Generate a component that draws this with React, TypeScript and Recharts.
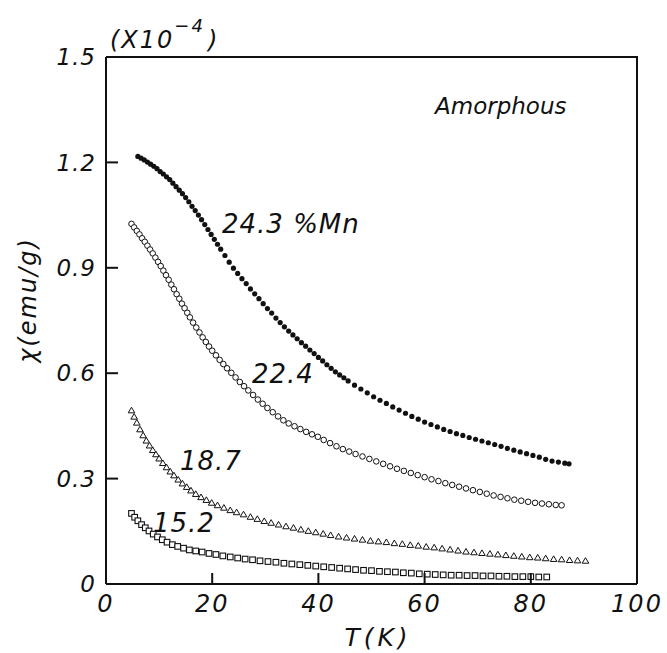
import { ScatterChart, Scatter, XAxis, YAxis, Customized } from 'recharts';

// susceptibility (x 1e-4 emu/g) vs T (K), amorphous Mn alloys
const mn243: [number, number][] = [
  [6.0, 1.217], [6.6, 1.212], [7.2, 1.207], [7.8, 1.201], [8.4, 1.195], [9.0, 1.189],
  [9.6, 1.182], [10.2, 1.174], [10.8, 1.167], [11.4, 1.159], [12.0, 1.151], [12.6, 1.141],
  [13.2, 1.131], [13.8, 1.121], [14.4, 1.111], [15.0, 1.1], [15.6, 1.088], [16.2, 1.075],
  [16.8, 1.063], [17.4, 1.05], [18.0, 1.037], [18.6, 1.023], [19.2, 1.009], [19.8, 0.995],
  [20.4, 0.981], [21.0, 0.967], [21.6, 0.953], [22.4, 0.935], [23.2, 0.916], [24.0, 0.899],
  [24.8, 0.884], [25.6, 0.869], [26.4, 0.855], [27.2, 0.84], [28.0, 0.826], [28.8, 0.812],
  [29.6, 0.798], [30.4, 0.784], [31.2, 0.771], [32.0, 0.757], [32.8, 0.744], [33.6, 0.732],
  [34.4, 0.72], [35.2, 0.709], [36.0, 0.698], [36.8, 0.687], [37.6, 0.677], [38.4, 0.666],
  [39.2, 0.656], [40.0, 0.645], [40.8, 0.635], [41.6, 0.624], [42.4, 0.614], [43.2, 0.604],
  [44.0, 0.595], [44.8, 0.587], [45.6, 0.578], [46.8, 0.566], [48.0, 0.555], [49.2, 0.544],
  [50.4, 0.533], [51.6, 0.523], [52.8, 0.514], [54.0, 0.504], [55.2, 0.495], [56.4, 0.486],
  [57.6, 0.477], [58.8, 0.469], [60.0, 0.461], [61.2, 0.454], [62.4, 0.447], [63.6, 0.44],
  [64.8, 0.434], [66.0, 0.428], [67.2, 0.423], [68.4, 0.417], [69.6, 0.412], [70.8, 0.407],
  [72.0, 0.402], [73.2, 0.397], [74.4, 0.392], [75.6, 0.386], [76.8, 0.381], [78.0, 0.376],
  [79.2, 0.371], [80.4, 0.366], [81.6, 0.361], [82.8, 0.355], [84.0, 0.35], [85.2, 0.347],
  [86.4, 0.344], [87.2, 0.342],
];

const mn224: [number, number][] = [
  [4.8, 1.025], [5.3, 1.015], [5.8, 1.005], [6.3, 0.995], [6.8, 0.984], [7.3, 0.974],
  [7.8, 0.963], [8.3, 0.952], [8.8, 0.941], [9.3, 0.929], [9.8, 0.917], [10.3, 0.905],
  [10.8, 0.892], [11.3, 0.879], [11.8, 0.866], [12.3, 0.852], [12.8, 0.839], [13.3, 0.825],
  [13.8, 0.812], [14.3, 0.798], [14.8, 0.785], [15.3, 0.772], [15.8, 0.759], [16.4, 0.744],
  [17.0, 0.73], [17.6, 0.716], [18.2, 0.702], [18.8, 0.689], [19.4, 0.676], [20.0, 0.664],
  [20.7, 0.651], [21.4, 0.638], [22.1, 0.626], [22.8, 0.614], [23.6, 0.601], [24.4, 0.588],
  [25.2, 0.575], [26.0, 0.563], [26.8, 0.551], [27.7, 0.538], [28.6, 0.525], [29.5, 0.513],
  [30.4, 0.501], [31.4, 0.489], [32.4, 0.477], [33.4, 0.466], [34.4, 0.457], [35.5, 0.449],
  [36.6, 0.441], [37.7, 0.433], [38.8, 0.426], [39.9, 0.419], [41.0, 0.41], [42.2, 0.401],
  [43.4, 0.392], [44.6, 0.384], [45.8, 0.377], [47.0, 0.37], [48.3, 0.363], [49.6, 0.356],
  [50.9, 0.349], [52.2, 0.342], [53.5, 0.335], [54.8, 0.328], [56.1, 0.322], [57.4, 0.316],
  [58.7, 0.31], [60.0, 0.304], [61.3, 0.298], [62.6, 0.293], [63.9, 0.287], [65.2, 0.282],
  [66.5, 0.277], [67.8, 0.272], [69.1, 0.267], [70.4, 0.262], [71.7, 0.257], [73.0, 0.252],
  [74.3, 0.248], [75.6, 0.244], [76.9, 0.24], [78.2, 0.237], [79.5, 0.234], [80.8, 0.231],
  [82.1, 0.229], [83.4, 0.227], [84.7, 0.225], [85.8, 0.224],
];

const mn187: [number, number][] = [
  [4.8, 0.494], [5.3, 0.476], [5.8, 0.459], [6.4, 0.44], [7.0, 0.423], [7.6, 0.408],
  [8.2, 0.394], [8.8, 0.381], [9.4, 0.369], [10.0, 0.357], [10.7, 0.344], [11.4, 0.332],
  [12.1, 0.32], [12.8, 0.309], [13.6, 0.297], [14.4, 0.286], [15.2, 0.276], [16.0, 0.266],
  [16.9, 0.256], [17.9, 0.247], [18.9, 0.239], [19.9, 0.231], [21.0, 0.224], [22.2, 0.217],
  [23.4, 0.21], [24.6, 0.204], [25.9, 0.198], [27.2, 0.191], [28.5, 0.185], [29.8, 0.179],
  [31.1, 0.174], [32.5, 0.169], [33.9, 0.164], [35.3, 0.16], [36.7, 0.155], [38.1, 0.151],
  [39.5, 0.147], [40.9, 0.143], [42.3, 0.139], [43.8, 0.135], [45.3, 0.132], [46.8, 0.129],
  [48.3, 0.126], [49.8, 0.123], [51.3, 0.121], [52.8, 0.119], [54.3, 0.116], [55.8, 0.114],
  [57.3, 0.111], [58.8, 0.109], [60.3, 0.106], [61.8, 0.104], [63.3, 0.101], [64.8, 0.098],
  [66.3, 0.095], [67.8, 0.092], [69.3, 0.09], [70.8, 0.088], [72.3, 0.086], [73.8, 0.084],
  [75.3, 0.082], [76.8, 0.08], [78.3, 0.078], [79.8, 0.076], [81.3, 0.075], [82.8, 0.073],
  [84.3, 0.071], [85.8, 0.07], [87.3, 0.068], [88.8, 0.067], [90.3, 0.066],
];

const mn152: [number, number][] = [
  [4.8, 0.201], [5.4, 0.19], [6.0, 0.18], [6.7, 0.169], [7.4, 0.16], [8.1, 0.151],
  [8.9, 0.142], [9.7, 0.134], [10.6, 0.126], [11.5, 0.119], [12.5, 0.112], [13.5, 0.107],
  [14.6, 0.102], [15.7, 0.097], [16.9, 0.094], [18.1, 0.091], [19.4, 0.087], [20.7, 0.084],
  [22.0, 0.08], [23.4, 0.077], [24.8, 0.074], [26.2, 0.071], [27.6, 0.069], [29.0, 0.066],
  [30.5, 0.064], [32.0, 0.062], [33.5, 0.059], [35.0, 0.057], [36.5, 0.055], [38.0, 0.053],
  [39.5, 0.051], [41.0, 0.049], [42.5, 0.047], [44.0, 0.045], [45.5, 0.043], [47.0, 0.041],
  [48.5, 0.039], [50.0, 0.038], [51.5, 0.036], [53.0, 0.035], [54.5, 0.034], [56.0, 0.032],
  [57.5, 0.031], [59.0, 0.029], [60.5, 0.028], [62.0, 0.027], [63.5, 0.026], [65.0, 0.025],
  [66.5, 0.025], [68.0, 0.024], [69.5, 0.024], [71.0, 0.023], [72.5, 0.023], [74.0, 0.022],
  [75.5, 0.022], [77.0, 0.021], [78.5, 0.021], [80.0, 0.021], [81.5, 0.02], [83.0, 0.02],
];

const xTicks = [0, 20, 40, 60, 80, 100];
const yTicks = [0, 0.3, 0.6, 0.9, 1.2, 1.5];

const ink = '#111';
const font = '"DejaVu Sans", sans-serif';
const axisLine = { stroke: ink, strokeWidth: 2 };

// plot box, from the chart margins + axis sizes below
const box = { left: 106, top: 57, right: 637, bottom: 584 };

const toPoints = (pairs: [number, number][]) => pairs.map(([t, chi]) => ({ t, chi }));

const FilledDot = ({ cx, cy }: any) => <circle cx={cx} cy={cy} r={2.6} fill={ink} />;
const OpenDot = ({ cx, cy }: any) => (
  <circle cx={cx} cy={cy} r={2.8} fill="#fff" stroke={ink} strokeWidth={1} />
);
const Triangle = ({ cx, cy }: any) => (
  <path
    d={`M${cx},${cy - 3.2}L${cx + 3.3},${cy + 2.4}L${cx - 3.3},${cy + 2.4}Z`}
    fill="#fff"
    stroke={ink}
    strokeWidth={1}
  />
);
const Square = ({ cx, cy }: any) => (
  <rect x={cx - 2.8} y={cy - 2.8} width={5.6} height={5.6} fill="#fff" stroke={ink} strokeWidth={1.1} />
);

const YTick = ({ x, y, payload }: any) => {
  const v = payload.value;
  const axisX = x + 10;
  return (
    <g>
      {v > 0 && v < 1.5 && (
        <path d={`M${axisX},${y}h12`} stroke={ink} strokeWidth={2} fill="none" />
      )}
      <text x={x} y={y} dy="0.36em" textAnchor="end" fontFamily={font} fontStyle="italic"
        fontSize={23} letterSpacing={1} fill={ink}>
        {v === 0 ? '0' : v.toFixed(1)}
      </text>
    </g>
  );
};

const XTick = ({ x, y, payload }: any) => {
  const v = payload.value;
  const axisY = y - 10;
  return (
    <g>
      {v > 0 && v < 100 && (
        <path d={`M${x},${axisY}v-11`} stroke={ink} strokeWidth={2} fill="none" />
      )}
      <text x={x} y={y} dy="0.76em" textAnchor="middle" fontFamily={font} fontStyle="italic"
        fontSize={24} letterSpacing={2} fill={ink}>
        {v}
      </text>
    </g>
  );
};

const Annotations = () => {
  const t = { fontFamily: font, fontStyle: 'italic', fill: ink } as const;
  return (
    <g>
      <path
        d={`M${box.left},${box.top}H${box.right}V${box.bottom}`}
        stroke={ink}
        strokeWidth={2}
        fill="none"
      />
      <text x={110} y={48} fontSize={24} letterSpacing={2} {...t}>
        (X10<tspan dy={-16} fontSize={18}>−4</tspan>
        <tspan dy={16} dx={3} fontSize={24}>)</tspan>
      </text>
      <text x={435} y={114} fontSize={23} {...t}>Amorphous</text>
      <text x={222} y={233} fontSize={26} letterSpacing={1} {...t}>24.3 %Mn</text>
      <text x={252} y={383} fontSize={26} letterSpacing={1} {...t}>22.4</text>
      <text x={180} y={470} fontSize={26} letterSpacing={1} {...t}>18.7</text>
      <text x={153} y={532} fontSize={26} letterSpacing={1} {...t}>15.2</text>
      <text x={378} y={646} textAnchor="middle" fontSize={25} letterSpacing={4} {...t}>T(K)</text>
      <text x={36} y={300} textAnchor="middle" fontSize={24} letterSpacing={2}
        transform="rotate(-90, 36, 300)" {...t}>χ(emu/g)</text>
    </g>
  );
};

export default function App() {
  return (
    <div style={{ position: 'absolute', left: 0, top: 0, background: '#fff' }}>
      <ScatterChart width={667} height={653} margin={{ top: 57, right: 30, bottom: 9, left: 46 }}>
        <XAxis dataKey="t" type="number" domain={[0, 100]} ticks={xTicks} interval={0}
          tick={<XTick />} tickLine={false} tickSize={0} tickMargin={10} axisLine={axisLine}
          stroke={ink} height={60} />
        <YAxis dataKey="chi" type="number" domain={[0, 1.5]} ticks={yTicks} interval={0}
          tick={<YTick />} tickLine={false} tickSize={0} tickMargin={10} axisLine={axisLine}
          stroke={ink} width={60} />
        <Scatter data={toPoints(mn152)} shape={Square} isAnimationActive={false} />
        <Scatter data={toPoints(mn187)} shape={Triangle} isAnimationActive={false} />
        <Scatter data={toPoints(mn224)} shape={OpenDot} isAnimationActive={false} />
        <Scatter data={toPoints(mn243)} shape={FilledDot} isAnimationActive={false} />
        <Customized component={Annotations} />
      </ScatterChart>
    </div>
  );
}
